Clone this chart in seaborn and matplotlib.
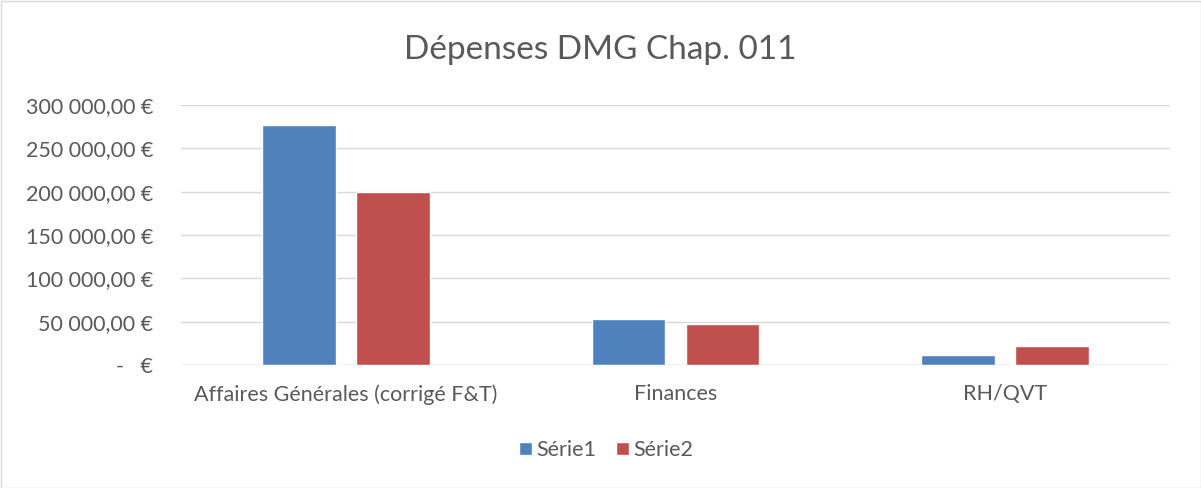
import pandas as pd
import matplotlib.pyplot as plt
import seaborn as sns
from matplotlib.patches import Rectangle
from matplotlib.ticker import FuncFormatter

# Data
categories = ["Affaires Générales (corrigé F&T)", "Finances", "RH/QVT"]
serie1 = [276800, 53000, 11500]
serie2 = [199700, 47200, 21900]
series_names = ["Série1", "Série2"]

df = pd.DataFrame({
    "Catégorie": categories * 2,
    "Montant": serie1 + serie2,
    "Série": [series_names[0]] * 3 + [series_names[1]] * 3,
})

sns.set_style("white")
plt.rcParams["font.family"] = ["Lato", "DejaVu Sans"]
text_color = "#595959"
grid_color = "#D9D9D9"

fig = plt.figure(figsize=(12.01, 4.88), dpi=100)
ax = fig.add_axes([181 / 1201, 1 - 365 / 488, (1170 - 181) / 1201, 260 / 488])

sns.barplot(data=df, x="Catégorie", y="Montant", hue="Série",
            palette=["#4F81BD", "#C0504D"], width=0.57, gap=0.213,
            saturation=1, ax=ax, zorder=3)

def euro(v, pos):
    if abs(v) < 1e-6:
        return "-   €"
    s = f"{v:,.2f}".replace(",", " ").replace(".", ",")
    return s + " €"

ax.set_ylim(0, 300000)
ax.set_yticks(range(0, 300001, 50000))
ax.yaxis.set_major_formatter(FuncFormatter(euro))
ax.set_xlim(-0.5, 2.5)
ax.grid(axis="y", color=grid_color, linewidth=1, zorder=0)
for side in ["top", "right", "left", "bottom"]:
    ax.spines[side].set_visible(False)
ax.axhline(0, color=grid_color, linewidth=1, zorder=2)
ax.tick_params(axis="both", length=0, labelsize=15.5, colors=text_color)
ax.tick_params(axis="y", pad=20)
ax.tick_params(axis="x", pad=14)
ax.set_xlabel("")
ax.set_ylabel("")

fig.suptitle("Dépenses DMG Chap. 011", x=0.5, y=1 - 50 / 488, va="center",
             fontsize=24, color=text_color)

handles, labels = ax.get_legend_handles_labels()
ax.get_legend().remove()
fig.legend(handles, labels, loc="center", bbox_to_anchor=(606 / 1201, 1 - 450 / 488),
           ncol=2, frameon=False, fontsize=15.5, labelcolor=text_color,
           handlelength=0.6, handleheight=0.6, handletextpad=0.2,
           columnspacing=0.9)

fig.patches.append(Rectangle((0.5 / 1201, 0.5 / 488), 1 - 1 / 1201, 1 - 1 / 488,
                             transform=fig.transFigure, fill=False,
                             edgecolor=grid_color, linewidth=1))

fig.savefig("out.png", dpi=100)
